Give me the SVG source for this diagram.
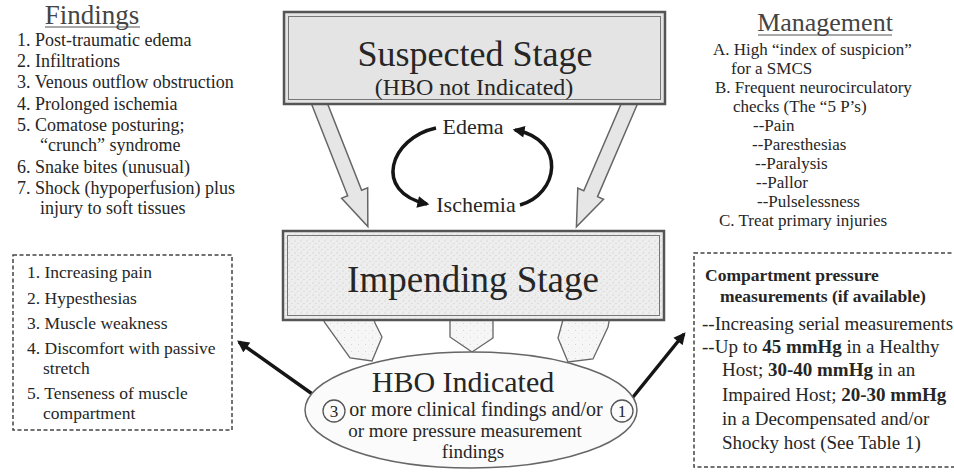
<svg xmlns="http://www.w3.org/2000/svg" width="954" height="472" viewBox="0 0 954 472" font-family="'Liberation Serif', 'Times New Roman', 'DejaVu Serif', serif">
<style>
text{font-family:'Liberation Serif','Times New Roman','DejaVu Serif',serif;fill:#262626}
.t{font-size:18px}
.m{font-size:17px}
.l{font-size:17.5px}
.r{font-size:19px}
.b{font-weight:bold}
.title{font-size:27px;fill:#444}
.dash{fill:none;stroke:#444;stroke-width:1.5;stroke-dasharray:4 2.5}
.hollow{fill:#e6e6e6;stroke:#666;stroke-width:1.5;stroke-linejoin:miter}
.thick{fill:none;stroke:#151515;stroke-width:3.5}
.pent{fill:url(#stip2);stroke:#666;stroke-width:1.3}
.ul{stroke:#555;stroke-width:1.2}
</style>
<defs>
<pattern id="stip" width="6" height="6" patternUnits="userSpaceOnUse">
<rect width="6" height="6" fill="#eeeeee"/>
<circle cx="1" cy="1" r="0.6" fill="#bdbdbd"/>
<circle cx="4" cy="3.5" r="0.55" fill="#c6c6c6"/>
<circle cx="2" cy="5" r="0.45" fill="#cfcfcf"/>
</pattern>
<pattern id="stip2" width="7" height="7" patternUnits="userSpaceOnUse">
<rect width="7" height="7" fill="#f6f6f6"/>
<circle cx="1.5" cy="1.5" r="0.5" fill="#cccccc"/>
<circle cx="5" cy="4.5" r="0.45" fill="#d4d4d4"/>
</pattern>
<marker id="ah" viewBox="0 0 10 10" refX="8" refY="5" markerWidth="3.6" markerHeight="3.4" orient="auto" markerUnits="strokeWidth">
<path d="M0,0 L10,5 L0,10 z" fill="#151515"/>
</marker>
</defs>

<g id="findings">
<text class="title" x="92" y="24" text-anchor="middle">Findings</text>
<line class="ul" x1="45" y1="27" x2="140" y2="27"/>
<text class="t" x="17" y="46">1. Post-traumatic edema</text>
<text class="t" x="17" y="67">2. Infiltrations</text>
<text class="t" x="17" y="88">3. Venous outflow obstruction</text>
<text class="t" x="17" y="110">4. Prolonged ischemia</text>
<text class="t" x="17" y="131">5. Comatose posturing;</text>
<text class="t" x="40" y="151">“crunch” syndrome</text>
<text class="t" x="17" y="173">6. Snake bites (unusual)</text>
<text class="t" x="17" y="194">7. Shock (hypoperfusion) plus</text>
<text class="t" x="40" y="214">injury to soft tissues</text>
</g>

<g id="management">
<text class="title" x="825" y="31" text-anchor="middle" style="font-size:26px">Management</text>
<line class="ul" x1="758" y1="35" x2="892" y2="35"/>
<text class="m" x="713" y="55">A. High “index of suspicion”</text>
<text class="m" x="731" y="74">for a SMCS</text>
<text class="m" x="715" y="93">B. Frequent neurocirculatory</text>
<text class="m" x="733" y="112">checks (The “5 P’s)</text>
<text class="m" x="753" y="131">--Pain</text>
<text class="m" x="752" y="150">--Paresthesias</text>
<text class="m" x="755" y="169">--Paralysis</text>
<text class="m" x="756" y="188">--Pallor</text>
<text class="m" x="757" y="207">--Pulselessness</text>
<text class="m" x="719" y="226">C. Treat primary injuries</text>
</g>

<g id="connectors">
<polygon class="hollow" transform="translate(318,100) rotate(-21.5)" points="-7.5,0 7.5,0 7.5,100 14,100 0,136 -14,100 -7.5,100"/>
<polygon class="hollow" transform="translate(631,100) rotate(23.3)" points="-7.5,0 7.5,0 7.5,102 14,102 0,138 -14,102 -7.5,102"/>
<path class="thick" d="M436,128 C390,138 372,192 427,204" marker-end="url(#ah)"/>
<path class="thick" d="M520,205 C558,195 568,140 515,130" marker-end="url(#ah)"/>
<path class="pent" d="M321,316 L325,323 L350,358 L372,361 L382,337 L375,323 L373,316 Z"/>
<path class="pent" d="M450,316 L450,337 L472,352 L493,338 L493,316 Z"/>
<path class="pent" d="M564,316 L558,338 L568,362 L593,359 L608,327 L610,316 Z"/>
<line class="thick" x1="325" y1="403" x2="239" y2="342" marker-end="url(#ah)"/>
<line class="thick" x1="629" y1="402" x2="684" y2="334" marker-end="url(#ah)"/>
</g>

<g id="suspected">
<rect x="284" y="12" width="381" height="92" fill="#e4e4e4" stroke="#555" stroke-width="2.5"/>
<rect x="288.5" y="16.5" width="372" height="83" fill="none" stroke="#777" stroke-width="1"/>
<text x="475" y="66" text-anchor="middle" style="font-size:36px">Suspected Stage</text>
<text x="474" y="95" text-anchor="middle" style="font-size:24px">(HBO not Indicated)</text>
</g>

<g id="cycle">
<text x="473" y="134" text-anchor="middle" style="font-size:22px">Edema</text>
<text x="476" y="212" text-anchor="middle" style="font-size:22px">Ischemia</text>
</g>

<g id="impending">
<rect x="283" y="231" width="381" height="89" fill="url(#stip)" stroke="#555" stroke-width="2.5"/>
<rect x="287.5" y="235.5" width="372" height="80" fill="none" stroke="#777" stroke-width="1"/>
<text x="473" y="292" text-anchor="middle" style="font-size:37px">Impending Stage</text>
</g>

<g id="hbo">
<ellipse cx="471" cy="410" rx="166" ry="58" fill="#fbfbfb" stroke="#666" stroke-width="1.5"/>
<text x="463" y="392" text-anchor="middle" style="font-size:30px">HBO Indicated</text>
<circle cx="334" cy="411" r="11" fill="#fbfbfb" stroke="#555" stroke-width="1.3"/>
<text x="334" y="417" text-anchor="middle" style="font-size:17px">3</text>
<circle cx="622" cy="411" r="11" fill="#fbfbfb" stroke="#555" stroke-width="1.3"/>
<text x="622" y="417" text-anchor="middle" style="font-size:17px">1</text>
<text x="476" y="416" text-anchor="middle" style="font-size:20px">or more clinical findings and/or</text>
<text x="465" y="437" text-anchor="middle" style="font-size:19px">or more pressure measurement</text>
<text x="473" y="458" text-anchor="middle" style="font-size:19px">findings</text>
</g>

<g id="clinical">
<rect class="dash" x="13" y="255" width="219" height="175"/>
<text class="l" x="27" y="278">1. Increasing pain</text>
<text class="l" x="27" y="304">2. Hypesthesias</text>
<text class="l" x="27" y="329">3. Muscle weakness</text>
<text class="l" x="27" y="354">4. Discomfort with passive</text>
<text class="l" x="43" y="374">stretch</text>
<text class="l" x="27" y="399">5. Tenseness of muscle</text>
<text class="l" x="43" y="419">compartment</text>
</g>

<g id="pressure">
<rect class="dash" x="694" y="253" width="264" height="214"/>
<text class="l b" x="705" y="281">Compartment pressure</text>
<text class="l b" x="720" y="302">measurements  (if available)</text>
<text class="r" x="702" y="330">--Increasing serial measurements</text>
<text class="r" x="702" y="353">--Up to <tspan class="b">45 mmHg</tspan> in a Healthy</text>
<text class="r" x="722" y="376">Host; <tspan class="b">30-40 mmHg</tspan> in an</text>
<text class="r" x="722" y="401">Impaired Host; <tspan class="b">20-30 mmHg</tspan></text>
<text class="r" x="722" y="425">in a Decompensated and/or</text>
<text class="r" x="722" y="449">Shocky host (See Table 1)</text>
</g>
</svg>
